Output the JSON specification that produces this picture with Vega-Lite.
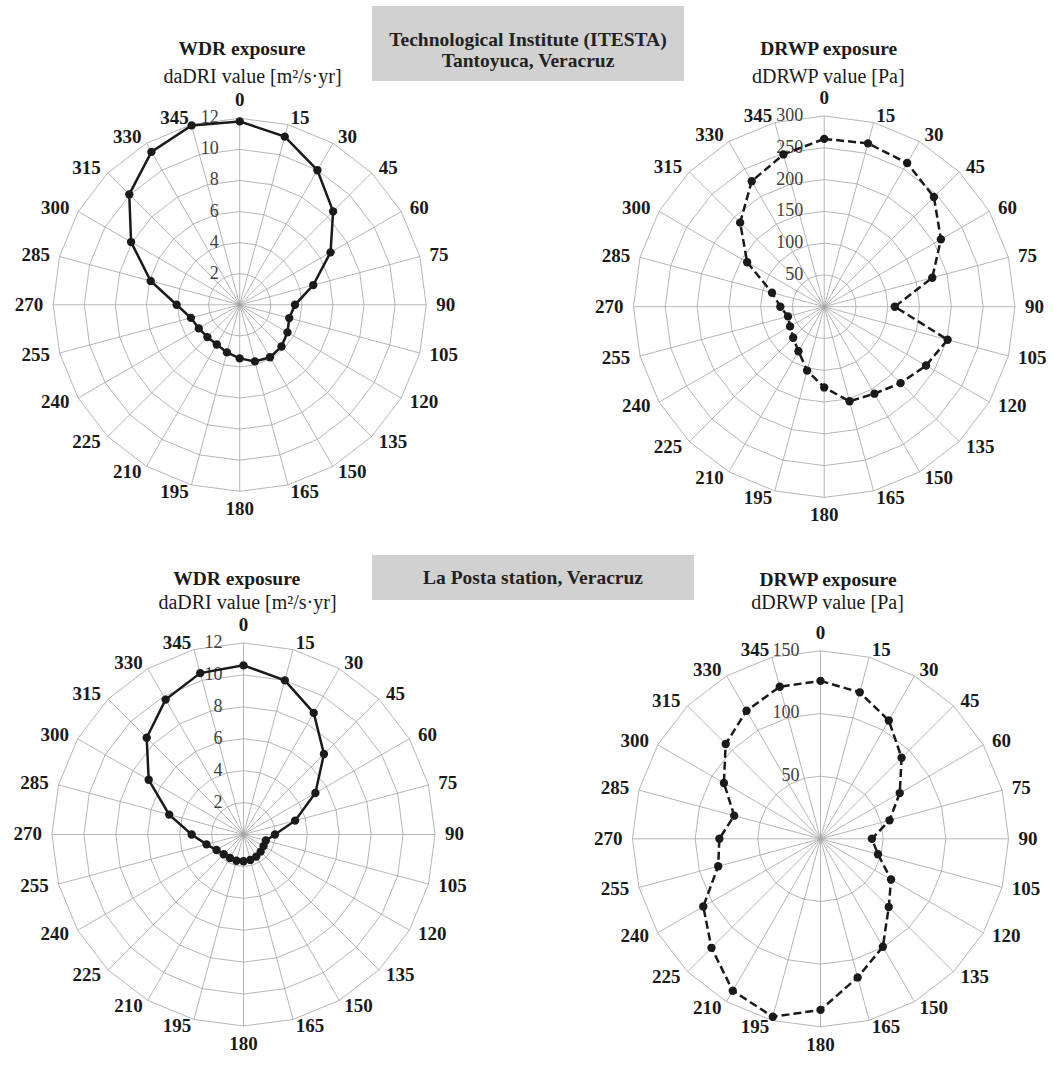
{
  "$schema": "https://vega.github.io/schema/vega-lite/v6.json",
  "padding": {"left": 0, "top": 6, "right": 0, "bottom": 0},
  "config": {"view": {"stroke": null}, "concat": {"spacing": 0}},
  "datasets": {
    "dirs": [{"dir":0},{"dir":15},{"dir":30},{"dir":45},{"dir":60},{"dir":75},{"dir":90},{"dir":105},{"dir":120},{"dir":135},{"dir":150},{"dir":165},{"dir":180},{"dir":195},{"dir":210},{"dir":225},{"dir":240},{"dir":255},{"dir":270},{"dir":285},{"dir":300},{"dir":315},{"dir":330},{"dir":345}],
    "series": [
      {"panel":"p1","dir":0,"v":11.8},{"panel":"p1","dir":15,"v":11.2},{"panel":"p1","dir":30,"v":10.0},{"panel":"p1","dir":45,"v":8.5},{"panel":"p1","dir":60,"v":6.75},{"panel":"p1","dir":75,"v":4.9},{"panel":"p1","dir":90,"v":3.56},{"panel":"p1","dir":105,"v":3.3},{"panel":"p1","dir":120,"v":3.55},{"panel":"p1","dir":135,"v":3.8},{"panel":"p1","dir":150,"v":3.9},{"panel":"p1","dir":165,"v":3.77},{"panel":"p1","dir":180,"v":3.45},{"panel":"p1","dir":195,"v":3.17},{"panel":"p1","dir":210,"v":2.95},{"panel":"p1","dir":225,"v":2.94},{"panel":"p1","dir":240,"v":3.04},{"panel":"p1","dir":255,"v":3.25},{"panel":"p1","dir":270,"v":4.06},{"panel":"p1","dir":285,"v":5.93},{"panel":"p1","dir":300,"v":8.07},{"panel":"p1","dir":315,"v":10.05},{"panel":"p1","dir":330,"v":11.36},{"panel":"p1","dir":345,"v":11.95},
      {"panel":"p2","dir":0,"v":264},{"panel":"p2","dir":15,"v":266},{"panel":"p2","dir":30,"v":261},{"panel":"p2","dir":45,"v":244},{"panel":"p2","dir":60,"v":212},{"panel":"p2","dir":75,"v":176},{"panel":"p2","dir":90,"v":111},{"panel":"p2","dir":105,"v":201},{"panel":"p2","dir":120,"v":185},{"panel":"p2","dir":135,"v":170},{"panel":"p2","dir":150,"v":158},{"panel":"p2","dir":165,"v":154},{"panel":"p2","dir":180,"v":127},{"panel":"p2","dir":195,"v":104},{"panel":"p2","dir":210,"v":81},{"panel":"p2","dir":225,"v":69},{"panel":"p2","dir":240,"v":62},{"panel":"p2","dir":255,"v":59},{"panel":"p2","dir":270,"v":69},{"panel":"p2","dir":285,"v":85},{"panel":"p2","dir":300,"v":140},{"panel":"p2","dir":315,"v":187},{"panel":"p2","dir":330,"v":228},{"panel":"p2","dir":345,"v":248},
      {"panel":"p3","dir":0,"v":10.6},{"panel":"p3","dir":15,"v":10.0},{"panel":"p3","dir":30,"v":8.8},{"panel":"p3","dir":45,"v":7.13},{"panel":"p3","dir":60,"v":5.2},{"panel":"p3","dir":75,"v":3.35},{"panel":"p3","dir":90,"v":1.97},{"panel":"p3","dir":105,"v":1.45},{"panel":"p3","dir":120,"v":1.45},{"panel":"p3","dir":135,"v":1.52},{"panel":"p3","dir":150,"v":1.6},{"panel":"p3","dir":165,"v":1.65},{"panel":"p3","dir":180,"v":1.68},{"panel":"p3","dir":195,"v":1.7},{"panel":"p3","dir":210,"v":1.7},{"panel":"p3","dir":225,"v":1.75},{"panel":"p3","dir":240,"v":1.95},{"panel":"p3","dir":255,"v":2.4},{"panel":"p3","dir":270,"v":3.25},{"panel":"p3","dir":285,"v":4.82},{"panel":"p3","dir":300,"v":6.86},{"panel":"p3","dir":315,"v":8.58},{"panel":"p3","dir":330,"v":9.76},{"panel":"p3","dir":345,"v":10.47},
      {"panel":"p4","dir":0,"v":126},{"panel":"p4","dir":15,"v":121},{"panel":"p4","dir":30,"v":109},{"panel":"p4","dir":45,"v":91.5},{"panel":"p4","dir":60,"v":73},{"panel":"p4","dir":75,"v":57},{"panel":"p4","dir":90,"v":41},{"panel":"p4","dir":105,"v":47.5},{"panel":"p4","dir":120,"v":65},{"panel":"p4","dir":135,"v":77},{"panel":"p4","dir":150,"v":99.5},{"panel":"p4","dir":165,"v":114.5},{"panel":"p4","dir":180,"v":136.5},{"panel":"p4","dir":195,"v":147},{"panel":"p4","dir":210,"v":140},{"panel":"p4","dir":225,"v":123},{"panel":"p4","dir":240,"v":108},{"panel":"p4","dir":255,"v":84.5},{"panel":"p4","dir":270,"v":80.7},{"panel":"p4","dir":285,"v":71.3},{"panel":"p4","dir":300,"v":89},{"panel":"p4","dir":315,"v":107},{"panel":"p4","dir":330,"v":118},{"panel":"p4","dir":345,"v":125.6}
    ]
  },
  "vconcat": [
    {
      "hconcat": [
        {
          "width": 372, "height": 549,
          "encoding": {
            "x": {"field": "x", "type": "quantitative", "scale": {"domain": [-1.2853, 0.7094], "nice": false, "zero": false}, "axis": null},
            "y": {"field": "y", "type": "quantitative", "scale": {"domain": [-1.3416, 1.6021], "nice": false, "zero": false}, "axis": null}
          },
          "layer": [
            {"data": {"name": "dirs"}, "transform": [{"calculate": "0", "as": "x"}, {"calculate": "0", "as": "y"}, {"calculate": "sin(datum.dir*PI/180)", "as": "x2"}, {"calculate": "cos(datum.dir*PI/180)", "as": "y2"}],
             "mark": {"type": "rule", "color": "#a3a3a3", "strokeWidth": 0.8}, "encoding": {"x2": {"field": "x2"}, "y2": {"field": "y2"}}},
            {"data": {"values": [{"t": [2,4,6,8,10,12], "d": [0,15,30,45,60,75,90,105,120,135,150,165,180,195,210,225,240,255,270,285,300,315,330,345,360]}]},
             "transform": [{"flatten": ["t"]}, {"flatten": ["d"]}, {"calculate": "datum.t/12*sin(datum.d*PI/180)", "as": "x"}, {"calculate": "datum.t/12*cos(datum.d*PI/180)", "as": "y"}],
             "mark": {"type": "line", "color": "#a3a3a3", "strokeWidth": 0.8}, "encoding": {"detail": {"field": "t", "type": "nominal"}, "order": {"field": "d", "type": "quantitative"}}},
            {"data": {"values": [{"t": [2,4,6,8,10,12]}]}, "transform": [{"flatten": ["t"]}, {"calculate": "0", "as": "x"}, {"calculate": "datum.t/12", "as": "y"}],
             "mark": {"type": "text", "align": "right", "baseline": "middle", "dx": -21, "font": "Liberation Serif", "fontSize": 18, "color": "#404040"}, "encoding": {"text": {"field": "t", "type": "nominal"}}},
            {"data": {"name": "series"}, "transform": [{"filter": "datum.panel == 'p1'"}, {"calculate": "datum.v/12*sin(datum.dir*PI/180)", "as": "x"}, {"calculate": "datum.v/12*cos(datum.dir*PI/180)", "as": "y"}],
             "layer": [
               {"mark": {"type": "line", "interpolate": "linear-closed", "color": "#1a1a1a", "strokeWidth": 2.5}, "encoding": {"order": {"field": "dir", "type": "quantitative"}}},
               {"mark": {"type": "circle", "size": 70, "color": "#1a1a1a", "opacity": 1}}
             ]},
            {"data": {"name": "dirs"}, "transform": [{"calculate": "1.0536*sin(datum.dir*PI/180)", "as": "x"}, {"calculate": "1.0375*cos(datum.dir*PI/180)", "as": "y"}],
             "mark": {"type": "text", "font": "Liberation Serif", "fontWeight": "bold", "fontSize": 19, "color": "#1a1a1a", "baseline": "middle",
                      "align": {"expr": "datum.dir == 0 || datum.dir == 180 ? 'center' : (datum.dir < 180 ? 'left' : 'right')"},
                      "dy": {"expr": "datum.dir == 0 ? -11 : (datum.dir == 180 ? 11 : 0)"}},
             "encoding": {"text": {"field": "dir", "type": "nominal"}}},
            {"data": {"values": [{"t": "WDR exposure"}]}, "transform": [{"calculate": "0.0123", "as": "x"}, {"calculate": "1.3716", "as": "y"}],
             "mark": {"type": "text", "font": "Liberation Serif", "fontWeight": "bold", "fontSize": 19.5, "color": "#1a1a1a", "baseline": "middle"},
             "encoding": {"text": {"field": "t", "type": "nominal"}}},
            {"data": {"values": [{"t": "daDRI value [m²/s·yr]"}]}, "transform": [{"calculate": "0.0686", "as": "x"}, {"calculate": "1.2214", "as": "y"}],
             "mark": {"type": "text", "font": "Liberation Serif", "fontSize": 20, "color": "#1a1a1a", "baseline": "middle"},
             "encoding": {"text": {"field": "t", "type": "nominal"}}}
          ]
        },
        {
          "width": 312, "height": 75,
          "view": {"fill": "#d1d1d1", "stroke": null},
          "data": {"values": [{}]},
          "mark": {"type": "text", "text": ["Technological Institute (ITESTA)", "Tantoyuca, Veracruz"], "font": "Liberation Serif", "fontWeight": "bold", "fontSize": 19.5, "lineHeight": 21, "baseline": "middle", "dy": -3.5, "color": "#222222"},
          "encoding": {}
        },
        {
          "width": 370, "height": 549,
          "encoding": {
            "x": {"field": "x", "type": "quantitative", "scale": {"domain": [-0.7352, 1.2050], "nice": false, "zero": false}, "axis": null},
            "y": {"field": "y", "type": "quantitative", "scale": {"domain": [-1.3020, 1.5768], "nice": false, "zero": false}, "axis": null}
          },
          "layer": [
            {"data": {"name": "dirs"}, "transform": [{"calculate": "0", "as": "x"}, {"calculate": "0", "as": "y"}, {"calculate": "sin(datum.dir*PI/180)", "as": "x2"}, {"calculate": "cos(datum.dir*PI/180)", "as": "y2"}],
             "mark": {"type": "rule", "color": "#a3a3a3", "strokeWidth": 0.8}, "encoding": {"x2": {"field": "x2"}, "y2": {"field": "y2"}}},
            {"data": {"values": [{"t": [50,100,150,200,250,300], "d": [0,15,30,45,60,75,90,105,120,135,150,165,180,195,210,225,240,255,270,285,300,315,330,345,360]}]},
             "transform": [{"flatten": ["t"]}, {"flatten": ["d"]}, {"calculate": "datum.t/300*sin(datum.d*PI/180)", "as": "x"}, {"calculate": "datum.t/300*cos(datum.d*PI/180)", "as": "y"}],
             "mark": {"type": "line", "color": "#a3a3a3", "strokeWidth": 0.8}, "encoding": {"detail": {"field": "t", "type": "nominal"}, "order": {"field": "d", "type": "quantitative"}}},
            {"data": {"values": [{"t": [50,100,150,200,250,300]}]}, "transform": [{"flatten": ["t"]}, {"calculate": "0", "as": "x"}, {"calculate": "datum.t/300", "as": "y"}],
             "mark": {"type": "text", "align": "right", "baseline": "middle", "dx": -21, "font": "Liberation Serif", "fontSize": 18, "color": "#404040"}, "encoding": {"text": {"field": "t", "type": "nominal"}}},
            {"data": {"name": "series"}, "transform": [{"filter": "datum.panel == 'p2'"}, {"calculate": "datum.v/300*sin(datum.dir*PI/180)", "as": "x"}, {"calculate": "datum.v/300*cos(datum.dir*PI/180)", "as": "y"}],
             "layer": [
               {"mark": {"type": "line", "interpolate": "linear-closed", "color": "#1a1a1a", "strokeWidth": 2.5, "strokeDash": [8, 4]}, "encoding": {"order": {"field": "dir", "type": "quantitative"}}},
               {"mark": {"type": "circle", "size": 70, "color": "#1a1a1a", "opacity": 1}}
             ]},
            {"data": {"name": "dirs"}, "transform": [{"calculate": "1.0524*sin(datum.dir*PI/180)", "as": "x"}, {"calculate": "1.0367*cos(datum.dir*PI/180)", "as": "y"}],
             "mark": {"type": "text", "font": "Liberation Serif", "fontWeight": "bold", "fontSize": 19, "color": "#1a1a1a", "baseline": "middle",
                      "align": {"expr": "datum.dir == 0 || datum.dir == 180 ? 'center' : (datum.dir < 180 ? 'left' : 'right')"},
                      "dy": {"expr": "datum.dir == 0 ? -11 : (datum.dir == 180 ? 11 : 0)"}},
             "encoding": {"text": {"field": "dir", "type": "nominal"}}},
            {"data": {"values": [{"t": "DRWP exposure"}]}, "transform": [{"calculate": "0.0236", "as": "x"}, {"calculate": "1.3513", "as": "y"}],
             "mark": {"type": "text", "font": "Liberation Serif", "fontWeight": "bold", "fontSize": 19.5, "color": "#1a1a1a", "baseline": "middle"},
             "encoding": {"text": {"field": "t", "type": "nominal"}}},
            {"data": {"values": [{"t": "dDRWP value [Pa]"}]}, "transform": [{"calculate": "0.0215", "as": "x"}, {"calculate": "1.2045", "as": "y"}],
             "mark": {"type": "text", "font": "Liberation Serif", "fontSize": 20, "color": "#1a1a1a", "baseline": "middle"},
             "encoding": {"text": {"field": "t", "type": "nominal"}}}
          ]
        }
      ],
      "spacing": 0,
      "bounds": "flush"
    },
    {
      "hconcat": [
        {
          "width": 372, "height": 512,
          "encoding": {
            "x": {"field": "x", "type": "quantitative", "scale": {"domain": [-1.2715, 0.6710], "nice": false, "zero": false}, "axis": null},
            "y": {"field": "y", "type": "quantitative", "scale": {"domain": [-1.2141, 1.4595], "nice": false, "zero": false}, "axis": null}
          },
          "layer": [
            {"data": {"name": "dirs"}, "transform": [{"calculate": "0", "as": "x"}, {"calculate": "0", "as": "y"}, {"calculate": "sin(datum.dir*PI/180)", "as": "x2"}, {"calculate": "cos(datum.dir*PI/180)", "as": "y2"}],
             "mark": {"type": "rule", "color": "#a3a3a3", "strokeWidth": 0.8}, "encoding": {"x2": {"field": "x2"}, "y2": {"field": "y2"}}},
            {"data": {"values": [{"t": [2,4,6,8,10,12], "d": [0,15,30,45,60,75,90,105,120,135,150,165,180,195,210,225,240,255,270,285,300,315,330,345,360]}]},
             "transform": [{"flatten": ["t"]}, {"flatten": ["d"]}, {"calculate": "datum.t/12*sin(datum.d*PI/180)", "as": "x"}, {"calculate": "datum.t/12*cos(datum.d*PI/180)", "as": "y"}],
             "mark": {"type": "line", "color": "#a3a3a3", "strokeWidth": 0.8}, "encoding": {"detail": {"field": "t", "type": "nominal"}, "order": {"field": "d", "type": "quantitative"}}},
            {"data": {"values": [{"t": [2,4,6,8,10,12]}]}, "transform": [{"flatten": ["t"]}, {"calculate": "0", "as": "x"}, {"calculate": "datum.t/12", "as": "y"}],
             "mark": {"type": "text", "align": "right", "baseline": "middle", "dx": -21, "font": "Liberation Serif", "fontSize": 18, "color": "#404040"}, "encoding": {"text": {"field": "t", "type": "nominal"}}},
            {"data": {"name": "series"}, "transform": [{"filter": "datum.panel == 'p3'"}, {"calculate": "datum.v/12*sin(datum.dir*PI/180)", "as": "x"}, {"calculate": "datum.v/12*cos(datum.dir*PI/180)", "as": "y"}],
             "layer": [
               {"mark": {"type": "line", "interpolate": "linear-closed", "color": "#1a1a1a", "strokeWidth": 2.5}, "encoding": {"order": {"field": "dir", "type": "quantitative"}}},
               {"mark": {"type": "circle", "size": 70, "color": "#1a1a1a", "opacity": 1}}
             ]},
            {"data": {"name": "dirs"}, "transform": [{"calculate": "1.0522*sin(datum.dir*PI/180)", "as": "x"}, {"calculate": "1.0366*cos(datum.dir*PI/180)", "as": "y"}],
             "mark": {"type": "text", "font": "Liberation Serif", "fontWeight": "bold", "fontSize": 19, "color": "#1a1a1a", "baseline": "middle",
                      "align": {"expr": "datum.dir == 0 || datum.dir == 180 ? 'center' : (datum.dir < 180 ? 'left' : 'right')"},
                      "dy": {"expr": "datum.dir == 0 ? -11 : (datum.dir == 180 ? 11 : 0)"}},
             "encoding": {"text": {"field": "dir", "type": "nominal"}}},
            {"data": {"values": [{"t": "WDR exposure"}]}, "transform": [{"calculate": "-0.0355", "as": "x"}, {"calculate": "1.3326", "as": "y"}],
             "mark": {"type": "text", "font": "Liberation Serif", "fontWeight": "bold", "fontSize": 19.5, "color": "#1a1a1a", "baseline": "middle"},
             "encoding": {"text": {"field": "t", "type": "nominal"}}},
            {"data": {"values": [{"t": "daDRI value [m²/s·yr]"}]}, "transform": [{"calculate": "0.0209", "as": "x"}, {"calculate": "1.2073", "as": "y"}],
             "mark": {"type": "text", "font": "Liberation Serif", "fontSize": 20, "color": "#1a1a1a", "baseline": "middle"},
             "encoding": {"text": {"field": "t", "type": "nominal"}}}
          ]
        },
        {
          "width": 322, "height": 45,
          "view": {"fill": "#d1d1d1", "stroke": null},
          "data": {"values": [{}]},
          "mark": {"type": "text", "text": "La Posta station, Veracruz", "font": "Liberation Serif", "fontWeight": "bold", "fontSize": 19.5, "baseline": "middle", "color": "#222222"},
          "encoding": {}
        },
        {
          "width": 360, "height": 512,
          "encoding": {
            "x": {"field": "x", "type": "quantitative", "scale": {"domain": [-0.6729, 1.2420], "nice": false, "zero": false}, "axis": null},
            "y": {"field": "y", "type": "quantitative", "scale": {"domain": [-1.2138, 1.5096], "nice": false, "zero": false}, "axis": null}
          },
          "layer": [
            {"data": {"name": "dirs"}, "transform": [{"calculate": "0", "as": "x"}, {"calculate": "0", "as": "y"}, {"calculate": "sin(datum.dir*PI/180)", "as": "x2"}, {"calculate": "cos(datum.dir*PI/180)", "as": "y2"}],
             "mark": {"type": "rule", "color": "#a3a3a3", "strokeWidth": 0.8}, "encoding": {"x2": {"field": "x2"}, "y2": {"field": "y2"}}},
            {"data": {"values": [{"t": [50,100,150], "d": [0,15,30,45,60,75,90,105,120,135,150,165,180,195,210,225,240,255,270,285,300,315,330,345,360]}]},
             "transform": [{"flatten": ["t"]}, {"flatten": ["d"]}, {"calculate": "datum.t/150*sin(datum.d*PI/180)", "as": "x"}, {"calculate": "datum.t/150*cos(datum.d*PI/180)", "as": "y"}],
             "mark": {"type": "line", "color": "#a3a3a3", "strokeWidth": 0.8}, "encoding": {"detail": {"field": "t", "type": "nominal"}, "order": {"field": "d", "type": "quantitative"}}},
            {"data": {"values": [{"t": [50,100,150]}]}, "transform": [{"flatten": ["t"]}, {"calculate": "0", "as": "x"}, {"calculate": "datum.t/150", "as": "y"}],
             "mark": {"type": "text", "align": "right", "baseline": "middle", "dx": -21, "font": "Liberation Serif", "fontSize": 18, "color": "#404040"}, "encoding": {"text": {"field": "t", "type": "nominal"}}},
            {"data": {"name": "series"}, "transform": [{"filter": "datum.panel == 'p4'"}, {"calculate": "datum.v/150*sin(datum.dir*PI/180)", "as": "x"}, {"calculate": "datum.v/150*cos(datum.dir*PI/180)", "as": "y"}],
             "layer": [
               {"mark": {"type": "line", "interpolate": "linear-closed", "color": "#1a1a1a", "strokeWidth": 2.5, "strokeDash": [8, 4]}, "encoding": {"order": {"field": "dir", "type": "quantitative"}}},
               {"mark": {"type": "circle", "size": 70, "color": "#1a1a1a", "opacity": 1}}
             ]},
            {"data": {"name": "dirs"}, "transform": [{"calculate": "1.0532*sin(datum.dir*PI/180)", "as": "x"}, {"calculate": "1.0372*cos(datum.dir*PI/180)", "as": "y"}],
             "mark": {"type": "text", "font": "Liberation Serif", "fontWeight": "bold", "fontSize": 19, "color": "#1a1a1a", "baseline": "middle",
                      "align": {"expr": "datum.dir == 0 || datum.dir == 180 ? 'center' : (datum.dir < 180 ? 'left' : 'right')"},
                      "dy": {"expr": "datum.dir == 0 ? -11 : (datum.dir == 180 ? 11 : 0)"}},
             "encoding": {"text": {"field": "dir", "type": "nominal"}}},
            {"data": {"values": [{"t": "DRWP exposure"}]}, "transform": [{"calculate": "0.0399", "as": "x"}, {"calculate": "1.3766", "as": "y"}],
             "mark": {"type": "text", "font": "Liberation Serif", "fontWeight": "bold", "fontSize": 19.5, "color": "#1a1a1a", "baseline": "middle"},
             "encoding": {"text": {"field": "t", "type": "nominal"}}},
            {"data": {"values": [{"t": "dDRWP value [Pa]"}]}, "transform": [{"calculate": "0.0372", "as": "x"}, {"calculate": "1.2543", "as": "y"}],
             "mark": {"type": "text", "font": "Liberation Serif", "fontSize": 20, "color": "#1a1a1a", "baseline": "middle"},
             "encoding": {"text": {"field": "t", "type": "nominal"}}}
          ]
        }
      ],
      "spacing": 0,
      "bounds": "flush"
    }
  ],
  "spacing": 0
}
